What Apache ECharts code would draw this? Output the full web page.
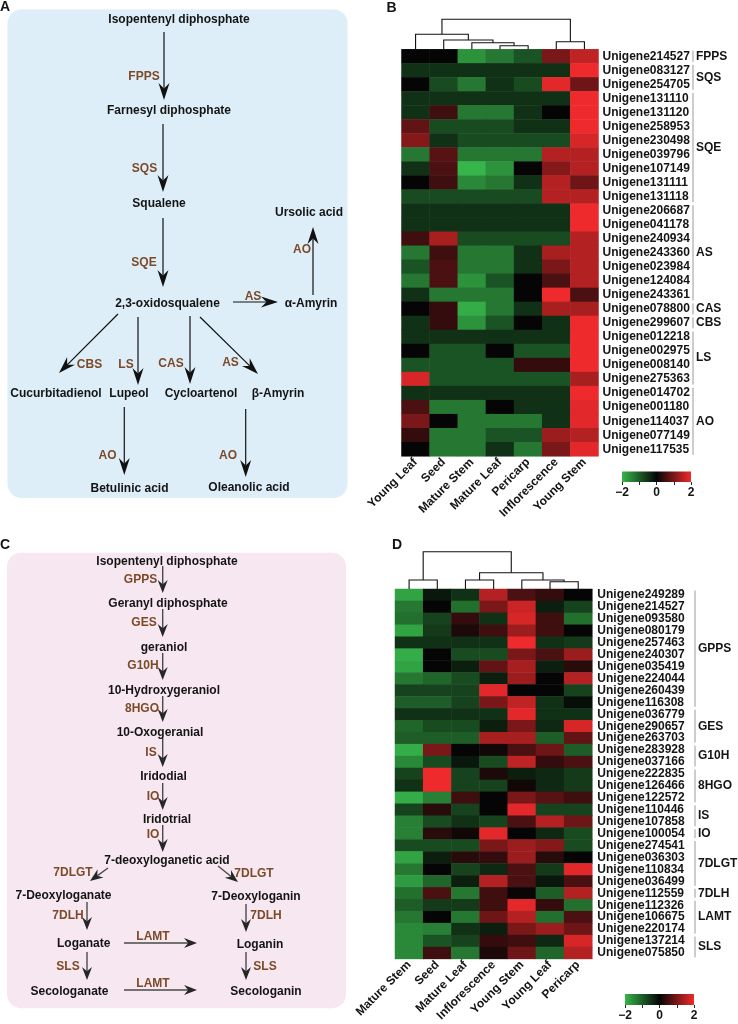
<!DOCTYPE html>
<html><head><meta charset="utf-8">
<script src="https://cdn.jsdelivr.net/npm/echarts@6/dist/echarts.min.js"></script>
<style>html,body{margin:0;padding:0;background:#fff}#c{width:738px;height:1024px}</style>
</head><body><div id="c"></div><script>
// ---------------- DATA ----------------
const tissuesB = ['Young Leaf','Seed','Mature Stem','Mature Leaf','Pericarp','Inflorescence','Young Stem'];
const genesB = ['Unigene214527','Unigene083127','Unigene254705','Unigene131110','Unigene131120','Unigene258953','Unigene230498','Unigene039796','Unigene107149','Unigene131111','Unigene131118','Unigene206687','Unigene041178','Unigene240934','Unigene243360','Unigene023984','Unigene124084','Unigene243361','Unigene078800','Unigene299607','Unigene012218','Unigene002975','Unigene008140','Unigene275363','Unigene014702','Unigene001180','Unigene114037','Unigene077149','Unigene117535'];
const valuesB = [
 [0, 0, -1.6, -1.3, -0.9, 1.0, 1.6],
 [-0.5,-0.5,-0.5,-0.5,-0.5,-0.5, 2],
 [0, -0.8, -1.3, -0.5, -0.8, 1.9, 0.9],
 [-0.5,-0.5,-0.5,-0.5,-0.5,-0.5, 2],
 [-0.5, 0.5, -1.3, -1.3, -0.5, 0, 2],
 [0.8, -0.8, -0.8, -0.8, -0.5, -0.5, 2],
 [1.1, -0.5, -0.8, -0.8, -0.8, -0.8, 1.8],
 [-1.3, 0.7, -1.3, -1.3, -1.3, 1.5, 1.5],
 [-0.5, 0.6, -2, -1.6, 0, 1.1, 1.5],
 [0, 0.5, -1.5, -1.3, -0.5, 1.5, 0.9],
 [-0.8,-0.8,-0.8,-0.8,-0.8, 1.5, 1.5],
 [-0.5,-0.5,-0.5,-0.5,-0.5,-0.5, 2],
 [-0.5,-0.5,-0.5,-0.5,-0.5,-0.5, 2],
 [0.5, 1.4, -0.8,-0.8,-0.8,-0.8, 1.5],
 [-1.3, 0.5, -1.3, -1.3, -0.5, 1.4, 1.5],
 [-0.9, 0.6, -1.3, -1.3, -0.5, 1.0, 1.5],
 [-1.3, 0.6, -1.6, -0.9, 0, 0.6, 1.5],
 [-0.5, -1.3, -1.3, -1.3, 0, 2, 0.6],
 [0, 0.4, -1.9, -1.3, -0.5, 1.4, 1.4],
 [-0.5, 0.4, -1.6, -0.9, 0, -0.5, 2],
 [-0.5,-0.5,-0.5,-0.5,-0.5,-0.5, 2],
 [0, -0.9, -0.9, 0, -0.9, -0.9, 2],
 [-0.9,-0.9,-0.9,-0.9, 0.4, 0.4, 2],
 [1.8, -0.9,-0.9,-0.9,-0.9,-0.9, 1.4],
 [-0.5,-0.5,-0.5,-0.5,-0.5,-0.5, 2],
 [0.6, -1.3, -1.3, 0, -0.5, -0.5, 1.9],
 [1.0, 0, -1.3, -1.3, -1.3, -0.5, 1.9],
 [0.4, -1.3, -1.3, -0.9, -0.9, 1.3, 1.5],
 [0, -1.3, -1.3, -0.5, -1.3, 1.0, 1.9]
];
const groupNamesB = ['FPPS','SQS','SQE','AS','CAS','CBS','LS','AO'];
const groupSizesB = [1,2,8,7,1,1,4,5];
// dendrogram merges: [childA, childB, height]; leaves are 0..6, merges numbered from 7
const mergesB = [[3,4,3.6],[2,7,6.6],[1,8,9.3],[0,9,15],[5,6,7.6],[10,11,30]];

const tissuesD = ['Mature Stem','Seed','Mature Leaf','Inflorescence','Young Stem','Young Leaf','Pericarp'];
const genesD = ['Unigene249289','Unigene214527','Unigene093580','Unigene080179','Unigene257463','Unigene240307','Unigene035419','Unigene224044','Unigene260439','Unigene116308','Unigene036779','Unigene290657','Unigene263703','Unigene283928','Unigene037166','Unigene222835','Unigene126466','Unigene122572','Unigene110446','Unigene107858','Unigene100054','Unigene274541','Unigene036303','Unigene110834','Unigene036499','Unigene112559','Unigene112326','Unigene106675','Unigene220174','Unigene137214','Unigene075850'];
const valuesD = [
 [-1.8, -0.2, -0.5, 1.5, 0.6, 0.4, 0],
 [-1.3, 0, -1.2, 1.0, 1.7, -0.3, -0.7],
 [-1.2, -0.7, 0.4, -0.5, 1.8, 0.5, -1.2],
 [-1.8, -0.6, 0.2, 0.5, 1.3, 0.5, 0],
 [-0.5, -0.5, -0.5, -0.5, 2, -0.5, -0.6],
 [-1.9, 0, -0.8, -0.8, 1.0, 0.6, 1.3],
 [-1.8, 0, -0.3, 0.8, 1.4, -0.3, 0.3],
 [-1.3, -1.1, -0.8, -0.3, 1.3, 0, 1.5],
 [-0.7, -0.7, -0.7, 1.9, 0, 0, -0.7],
 [-1.0, -1.0, -0.7, 1.0, 1.6, -0.5, -0.1],
 [-0.5, -0.5, -0.5, -0.5, 1.9, -0.5, -0.5],
 [-1.1, -0.8, -0.8, -0.3, 1.0, -0.4, 1.8],
 [-1.0, -1.0, -1.0, 1.4, 1.4, -1.0, 0.8],
 [-1.9, 1.0, 0, 0.1, 0.6, 0.9, -1.0],
 [-1.5, -0.8, -0.2, -0.8, 1.6, 0.4, 0.6],
 [-0.7, 2, -0.7, 0.2, -0.3, -0.4, -0.6],
 [-0.5, 2, -0.7, -0.7, 0.1, -0.4, -0.6],
 [-1.9, -1.4, 0.5, 0, 1.0, 0.7, 0.5],
 [-0.7, 0.3, -0.7, 0, 1.9, -0.7, -0.7],
 [-1.4, -0.8, -0.5, -0.7, 0.6, 1.5, 0.9],
 [-1.4, 0.3, 0.1, 1.9, 0, -0.4, -0.8],
 [-0.8, -0.8, -0.8, 1.0, 1.3, 1.1, -0.8],
 [-1.8, -0.3, 0.3, 0.4, 1.3, 0.3, 0],
 [-1.3, 0, -0.7, -0.4, 0.6, -0.6, 1.9],
 [-1.7, -1.1, -0.3, 1.5, 0.6, -0.2, 0.6],
 [-1.2, 0.6, -1.3, 0.5, 0.05, -1.0, 1.5],
 [-1.0, -0.6, -0.6, 0.5, 1.9, 0.4, -1.2],
 [-1.3, 0, -1.3, 0.9, 1.5, -1.2, 0.6],
 [-1.5, -1.4, -0.5, -0.3, 1.0, 1.3, 0.9],
 [-1.5, -0.9, -0.7, 0.4, 0.5, -0.4, 1.8],
 [-1.5, 0.5, -1.3, 0.2, 0.9, -1.1, 1.5]
];
const groupNamesD = ['GPPS','GES','G10H','8HGO','IS','IO','7DLGT','7DLH','LAMT','SLS'];
const groupSizesD = [10,3,2,3,2,1,4,1,3,2];
const mergesD = [[0,1,9],[2,3,9],[5,6,7.3],[4,9,9],[8,10,16.3],[7,11,37.3]];

const scaleTicks = [-2,-1,0,1,2];
const scaleLabels = ['−2','','0','','2'];

// ---------------- HELPERS ----------------
const FONT = '"Liberation Sans", Arial, Helvetica, sans-serif';
const BROWN = '#7b4a28';
const INK = '#141414';
const HM_COLORS = ['#36b54a', '#050505', '#ee2a2c'];

function heatData(vals){ const d=[]; vals.forEach((row,r)=>row.forEach((v,c)=>d.push([c,r,v]))); return d; }
function dendroData(merges, n){
  const pos=[], ht=[];
  for(let i=0;i<n;i++){pos.push(i);ht.push(0);}
  const out=[];
  merges.forEach(([a,b,h])=>{ out.push([pos[a],ht[a],pos[b],ht[b],h]); pos.push((pos[a]+pos[b])/2); ht.push(h); });
  return out;
}
function groupsOf(names, sizes){
  let s=0; return names.map((nm,i)=>{ const g={name:nm,start:s,end:s+sizes[i]-1}; s+=sizes[i]; return g; });
}
const groupsB = groupsOf(groupNamesB, groupSizesB);
const groupsD = groupsOf(groupNamesD, groupSizesD);

function dendroRender(params, api){
  const a0=api.coord([api.value(0),api.value(1)]), a1=api.coord([api.value(0),api.value(4)]);
  const b1=api.coord([api.value(2),api.value(4)]), b0=api.coord([api.value(2),api.value(3)]);
  return {type:'polyline', shape:{points:[a0,a1,b1,b0]}, style:{stroke:'#111', lineWidth:1.1, fill:null}};
}
function groupRender(groups, offset, textGap){
  return function(params, api){
    const g = groups[params.dataIndex];
    const sz = api.size([1,1]);
    const cw=Math.abs(sz[0]), ch=Math.abs(sz[1]);
    const p1=api.coord([6,g.start]), p2=api.coord([6,g.end]);
    const x = p1[0]+cw/2+offset;
    const y1 = Math.min(p1[1],p2[1])-ch/2+1.5, y2 = Math.max(p1[1],p2[1])+ch/2-1.5;
    return {type:'group', children:[
      {type:'line', shape:{x1:x,y1:y1,x2:x,y2:y2}, style:{stroke:'#9a9a9a', lineWidth:1}},
      {type:'text', x:x+textGap, y:(y1+y2)/2, style:{text:g.name, font:'bold 12px '+FONT, fill:INK, textAlign:'left', textVerticalAlign:'middle', align:'left', verticalAlign:'middle'}}
    ]};
  };
}
function barRender(params, api){
  const a=api.coord([-2,0]), b=api.coord([2,1]);
  return {type:'rect', shape:{x:a[0], y:b[1], width:b[0]-a[0], height:a[1]-b[1]},
    style:{fill:new echarts.graphic.LinearGradient(0,0,1,0,[{offset:0,color:HM_COLORS[0]},{offset:0.5,color:HM_COLORS[1]},{offset:1,color:HM_COLORS[2]}])}};
}

// ---------------- PATHWAY DIAGRAM HELPERS ----------------
function txt(s,x,y,color){
  return {type:'text', x:x, y:y, silent:true, style:{text:s, font:'bold 12px '+FONT, fill:color||INK, textAlign:'center', textVerticalAlign:'middle', align:'center', verticalAlign:'middle'}};
}
function arrow(x1,y1,x2,y2,o){
  const dx=x2-x1, dy=y2-y1, len=Math.hypot(dx,dy), ux=dx/len, uy=dy/len, px=-uy, py=ux;
  const bx=x2-ux*o.L, by=y2-uy*o.L, nx=x2-ux*o.L*0.68, ny=y2-uy*o.L*0.68;
  return [
    {type:'line', silent:true, shape:{x1:x1,y1:y1,x2:nx,y2:ny}, style:{stroke:o.c, lineWidth:o.lw}},
    {type:'polygon', silent:true, shape:{points:[[x2,y2],[bx+px*o.W/2,by+py*o.W/2],[nx,ny],[bx-px*o.W/2,by-py*o.W/2]]}, style:{fill:o.hc||o.c}}
  ];
}
const styleA = {L:17, W:11, lw:1.2, c:'#111'};
const styleC = {L:13, W:10, lw:1.4, c:'#4a4a4a', hc:'#262626'};

const compA = [['Isopentenyl diphosphate',179,20],['Farnesyl diphosphate',169,111],['Squalene',159,204],['Ursolic acid',309,213],['2,3-oxidosqualene',167.5,304],['α-Amyrin',311,304],['Cucurbitadienol',56,394],['Lupeol',129,394],['Cycloartenol',201,394],['β-Amyrin',278,394],['Betulinic acid',129.5,489],['Oleanolic acid',249,488]];
const enzA = [['FPPS',144,77],['SQS',144.5,169],['SQE',144,263],['AO',302,250],['AS',253,297],['CBS',89.5,365],['LS',126,365],['CAS',171,364],['AS',230.5,363],['AO',107.5,456],['AO',228,456]];
const arrA = [[164,32,164,100],[163,124,163,192],[163,218,163,287],[313,295,313,227],[233,302,278,302],[118,314,59,373],[138,317,138,385],[190,316,190,384],[200,317,258,374],[124.3,407,124.3,475],[245.7,409,245.7,477]];
const compC = [['Isopentenyl diphosphate',167,562],['Geranyl diphosphate',168,604],['geraniol',164,648],['10-Hydroxygeraniol',164,691],['10-Oxogeranial',160,733],['Iridodial',163.5,777],['Iridotrial',167,820],['7-deoxyloganetic acid',167,861],['7-Deoxyloganate',63.5,896],['7-Deoxyloganin',256,897],['Loganate',83.7,944],['Loganin',260,945],['Secologanate',69.5,992],['Secologanin',266,992]];
const enzC = [['GPPS',140.5,580],['GES',144,623],['G10H',143,666],['8HGO',142,709],['IS',151,753],['IO',153,797],['IO',153,835],['7DLGT',73,873],['7DLGT',254,874],['7DLH',68,916],['7DLH',266,916],['LAMT',153,937],['SLS',68,967],['SLS',265,967],['LAMT',153,984]];
const arrC = [[162.7,566,162.7,593],[162.7,609,162.7,637],[162.7,653,162.7,680],[162.7,696,162.7,722],[162.7,738,162.7,767],[162.7,783,162.7,810],[162.7,825,162.7,852],[108,868,90,881],[218,866,238,882],[87,902,87,930],[246,904,246,932],[124,943,197,943],[87,952,87,980],[246,952,246,980],[124,990,197,990]];

const gfx = [];
gfx.push({type:'rect', silent:true, shape:{x:7.5,y:9.5,width:340,height:488.5,r:14}, style:{fill:'#deeef9'}});
gfx.push({type:'rect', silent:true, shape:{x:7,y:552.7,width:339,height:455.5,r:14}, style:{fill:'#f7e7f0'}});
arrA.forEach(a=>gfx.push(...arrow(a[0],a[1],a[2],a[3],styleA)));
arrC.forEach(a=>gfx.push(...arrow(a[0],a[1],a[2],a[3],styleC)));
compA.forEach(t=>gfx.push(txt(t[0],t[1],t[2])));
enzA.forEach(t=>gfx.push(txt(t[0],t[1],t[2],BROWN)));
compC.forEach(t=>gfx.push(txt(t[0],t[1],t[2])));
enzC.forEach(t=>gfx.push(txt(t[0],t[1],t[2],BROWN)));
[['A',0,7.5],['B',386.5,7.7],['C',0,545],['D',392,545.5]].forEach(t=>gfx.push({type:'text', x:t[1], y:t[2], silent:true,
  style:{text:t[0], font:'bold 14px '+FONT, fill:INK, textAlign:'left', textVerticalAlign:'middle', align:'left', verticalAlign:'middle'}}));

// ---------------- CHART ----------------
const labelFont = {fontFamily:FONT, fontWeight:'bold', fontSize:12, color:INK};
function catX(grid, cats){ return {type:'category', gridIndex:grid, data:cats, position:'bottom', axisLine:{show:false}, axisTick:{show:false}, splitLine:{show:false},
  axisLabel:Object.assign({interval:0, rotate:45, margin:4}, labelFont)}; }
function catY(grid, cats, margin){ return {type:'category', gridIndex:grid, data:cats, inverse:true, position:'right', axisLine:{show:false}, axisTick:{show:false}, splitLine:{show:false},
  axisLabel:Object.assign({interval:0, margin:margin}, labelFont)}; }
function hidVal(grid,min,max){ return {type:'value', gridIndex:grid, min:min, max:max, show:false, splitLine:{show:false}}; }
function scaleX(grid){ return {type:'value', gridIndex:grid, min:-2, max:2, interval:1, axisLine:{show:false}, splitLine:{show:false},
  axisTick:{show:true, length:3, lineStyle:{color:'#222', width:1}},
  axisLabel:Object.assign({margin:5, formatter:v=>scaleLabels[scaleTicks.indexOf(v)] || ''}, labelFont)}; }

const option = {
  animation:false,
  backgroundColor:'#ffffff',
  graphic:{elements:gfx},
  grid:[
    {left:401.5, top:49.3, width:197, height:407},
    {left:401.5, top:19.3, width:197, height:30},
    {left:395, top:589, width:197.3, height:372},
    {left:395, top:551.7, width:197.3, height:37.3},
    {left:622, top:471.5, width:69, height:10.5},
    {left:625, top:994, width:69, height:11}
  ],
  xAxis:[catX(0,tissuesB), hidVal(1,-0.5,6.5), catX(2,tissuesD), hidVal(3,-0.5,6.5), scaleX(4), scaleX(5)],
  yAxis:[catY(0,genesB,4), hidVal(1,0,30), catY(2,genesD,5), hidVal(3,0,37.3), hidVal(4,0,1), hidVal(5,0,1)],
  visualMap:[
    {show:false, seriesIndex:0, min:-2, max:2, dimension:2, inRange:{color:HM_COLORS}},
    {show:false, seriesIndex:1, min:-2, max:2, dimension:2, inRange:{color:HM_COLORS}}
  ],
  series:[
    {type:'heatmap', xAxisIndex:0, yAxisIndex:0, data:heatData(valuesB), itemStyle:{borderWidth:0}, emphasis:{disabled:true}},
    {type:'heatmap', xAxisIndex:2, yAxisIndex:2, data:heatData(valuesD), itemStyle:{borderWidth:0}, emphasis:{disabled:true}},
    {type:'custom', xAxisIndex:1, yAxisIndex:1, data:dendroData(mergesB,7), renderItem:dendroRender, clip:false, silent:true},
    {type:'custom', xAxisIndex:3, yAxisIndex:3, data:dendroData(mergesD,7), renderItem:dendroRender, clip:false, silent:true},
    {type:'custom', xAxisIndex:0, yAxisIndex:0, data:groupsB.map(g=>[6,g.start]), renderItem:groupRender(groupsB,94.5,3), clip:false, silent:true, z:5},
    {type:'custom', xAxisIndex:2, yAxisIndex:2, data:groupsD.map(g=>[6,g.start]), renderItem:groupRender(groupsD,102.7,3), clip:false, silent:true, z:5},
    {type:'custom', xAxisIndex:4, yAxisIndex:4, data:[[0,0.5]], renderItem:barRender, clip:false, silent:true},
    {type:'custom', xAxisIndex:5, yAxisIndex:5, data:[[0,0.5]], renderItem:barRender, clip:false, silent:true}
  ]
};
const chart = echarts.init(document.getElementById('c'), null, {renderer:'canvas'});
chart.setOption(option);
</script></body></html>
